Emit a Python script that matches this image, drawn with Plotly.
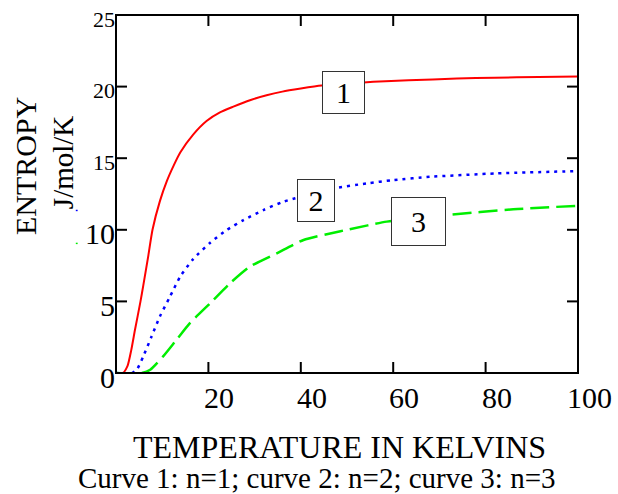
import plotly.graph_objects as go

# Curve 1 (n=1)
t1 = [0, 1.5, 2.5, 3.3, 4.1, 5.3, 5.9, 7.0, 7.9, 9.5, 11.0, 12.5, 13.9, 16.7, 19.6, 22.5,
      25.4, 29.0, 32.6, 36.0, 40.0, 44.5, 50.0, 55.7, 63.3, 73.8, 82.0, 91.5, 100]
s1 = [0, 0, 0.5, 1.6, 3.0, 5.0, 6.1, 8.2, 10.0, 12.0, 13.4, 14.5, 15.4, 16.65, 17.6, 18.2,
      18.6, 19.05, 19.4, 19.65, 19.86, 20.07, 20.2, 20.33, 20.44, 20.56, 20.62, 20.67, 20.7]

# Curve 2 (n=2)
t2 = [0, 3.5, 4.5, 5.9, 7.7, 9.5, 11.7, 13.9, 16.7, 20.4, 24.0, 27.6, 31.9, 36.2, 38.8,
      47.1, 54.3, 60, 68, 82.4, 100]
s2 = [0, 0, 0.23, 1.16, 2.55, 3.95, 5.34, 6.73, 7.95, 9.1, 9.99, 10.68, 11.38, 11.96, 12.2,
      12.89, 13.24, 13.47, 13.7, 13.94, 14.1]

# Curve 3 (n=3)
t3 = [0, 5.5, 7.4, 10.2, 13.1, 16.0, 20.4, 24.7, 29.0, 34.8, 40.6, 47.1, 50, 58.6, 71.6, 86, 100]
s3 = [0, 0, 0.23, 1.16, 2.32, 3.48, 4.88, 6.27, 7.43, 8.36, 9.29, 9.8, 10.0, 10.57, 11.03,
      11.43, 11.68]

x_ticks = [20, 40, 60, 80, 100]
x_ticktext = ["20", "40", "60", "80", "100"]
y_ticks = [0, 5, 10, 15, 20, 25]
y_ticktext = ["0", "5", "10", "15", "20", "25"]
y_ticksize = [30, 30, 30, 22, 22, 22]

curve_labels = ["1", "2", "3"]
label_x = [49.3, 43.25, 65.5]
label_y = [19.61, 12.03, 10.57]
label_w = [41, 36, 53]
label_h = [41, 41, 47]

FONT = "Liberation Serif, Times New Roman, serif"
TICKLEN = 11

fig = go.Figure()
fig.add_trace(go.Scatter(x=t1, y=s1, mode="lines",
                         line=dict(color="#ff0000", width=2, shape="spline", smoothing=0.6),
                         showlegend=False, hoverinfo="skip"))
fig.add_trace(go.Scatter(x=t2, y=s2, mode="lines",
                         line=dict(color="#0000ff", width=2.5, dash="3px,5px",
                                   shape="spline", smoothing=0.6),
                         showlegend=False, hoverinfo="skip"))
fig.add_trace(go.Scatter(x=t3, y=s3, mode="lines",
                         line=dict(color="#00ee00", width=2.5, dash="19px,7px",
                                   shape="spline", smoothing=0.6),
                         showlegend=False, hoverinfo="skip"))

for lab, lx, ly, w, h in zip(curve_labels, label_x, label_y, label_w, label_h):
    fig.add_annotation(x=lx, y=ly, xref="x", yref="y", text=lab, showarrow=False,
                       xanchor="center", yanchor="middle",
                       font=dict(family=FONT, size=30, color="black"),
                       bgcolor="white", bordercolor="#333333", borderwidth=1,
                       borderpad=0, width=w, height=h)

# frame
fig.add_shape(type="rect", xref="paper", yref="paper", x0=0, x1=1, y0=0, y1=1,
              line=dict(color="black", width=2), layer="above")
# inside ticks on all four sides
for xv in x_ticks[:-1]:
    for yanc, y0, y1 in [(0, 0, TICKLEN), (1, 0, -TICKLEN)]:
        fig.add_shape(type="line", xref="x", yref="paper", ysizemode="pixel", yanchor=yanc,
                      x0=xv, x1=xv, y0=y0, y1=y1, line=dict(color="black", width=2),
                      layer="above")
for yv in y_ticks[1:]:
    for xanc, x0, x1 in [(0, 0, TICKLEN), (1, 0, -TICKLEN)]:
        fig.add_shape(type="line", xref="paper", yref="y", xsizemode="pixel", xanchor=xanc,
                      x0=x0, x1=x1, y0=yv, y1=yv, line=dict(color="black", width=2),
                      layer="above")

# tick labels
for xv, xt in zip(x_ticks, x_ticktext):
    fig.add_annotation(x=xv, y=-0.0633, xref="x", yref="paper", text=xt, showarrow=False,
                       xanchor="center", yanchor="middle", xshift=11, yshift=-2,
                       font=dict(family=FONT, size=30, color="black"))
for yv, yt, ys in zip(y_ticks, y_ticktext, y_ticksize):
    fig.add_annotation(x=0, y=yv, xref="paper", yref="y", text=yt, showarrow=False,
                       xanchor="right", yanchor="middle", xshift=1, yshift=-4,
                       font=dict(family=FONT, size=ys, color="black"))

# axis titles
fig.add_annotation(x=-0.197, y=0.578, xref="paper", yref="paper", text="ENTROPY",
                   textangle=-90, showarrow=False, xanchor="center", yanchor="middle",
                   font=dict(family=FONT, size=30, color="black"))
fig.add_annotation(x=-0.1147, y=0.589, xref="paper", yref="paper", text="J/mol/K",
                   textangle=-90, showarrow=False, xanchor="center", yanchor="middle",
                   font=dict(family=FONT, size=29, color="black"))
fig.add_annotation(x=0.4827, y=-0.2055, xref="paper", yref="paper",
                   text="TEMPERATURE IN KELVINS", showarrow=False,
                   xanchor="center", yanchor="middle",
                   font=dict(family=FONT, size=32, color="black"))
fig.add_annotation(x=0.435, y=-0.293, xref="paper", yref="paper",
                   text="Curve 1: n=1; curve 2: n=2; curve 3: n=3", showarrow=False,
                   xanchor="center", yanchor="middle",
                   font=dict(family=FONT, size=29, color="black"))

# tiny trace markers next to the y title (as in the original)
fig.add_shape(type="rect", xref="paper", yref="paper", x0=-0.087, x1=-0.083,
              y0=0.452, y1=0.456, line=dict(width=0), fillcolor="#0000ff", layer="above")
fig.add_shape(type="rect", xref="paper", yref="paper", x0=-0.087, x1=-0.083,
              y0=0.360, y1=0.364, line=dict(width=0), fillcolor="#00ee00", layer="above")

fig.update_xaxes(range=[0, 100], showline=False, ticks="", showticklabels=False,
                 showgrid=False, zeroline=False, automargin=False)
fig.update_yaxes(range=[0, 25], showline=False, ticks="", showticklabels=False,
                 showgrid=False, zeroline=False, automargin=False)

fig.update_layout(template="none", width=618, height=494, paper_bgcolor="white",
                  plot_bgcolor="white", margin=dict(l=116, r=40, t=15, b=121),
                  showlegend=False)

fig.write_html("out.html", config={"displayModeBar": False},
               post_script="document.body.style.margin='0';")
